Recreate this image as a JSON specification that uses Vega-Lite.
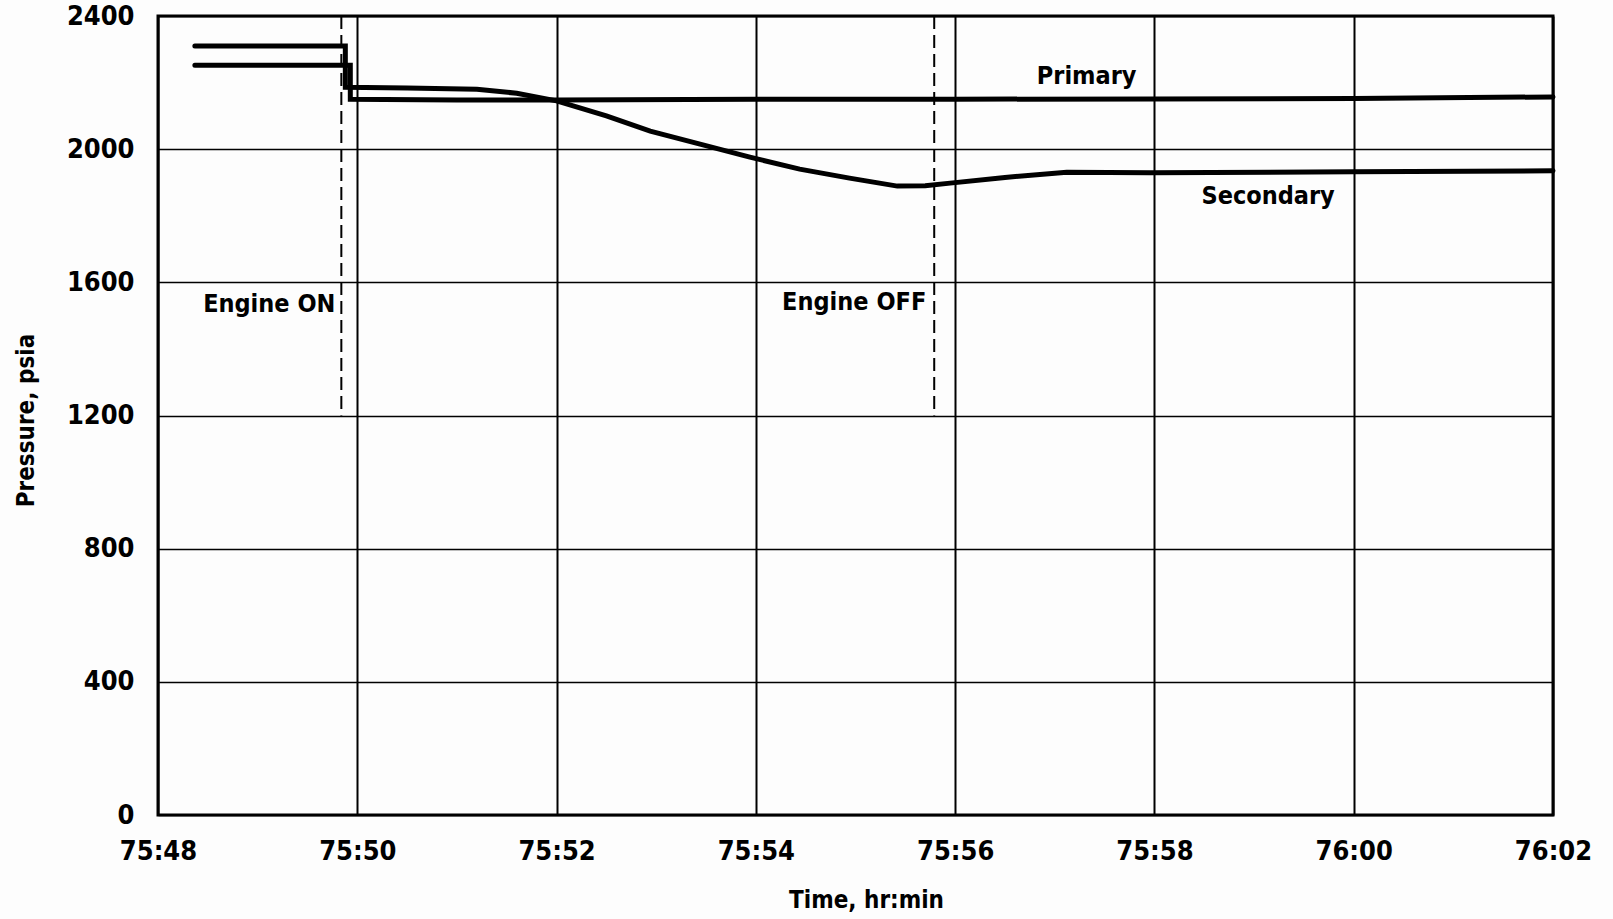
{
  "$schema": "https://vega.github.io/schema/vega-lite/v6.json",
  "width": 1395,
  "height": 799,
  "autosize": "none",
  "padding": {"left": 158, "top": 16, "right": 60, "bottom": 104},
  "background": "#fdfdfd",
  "config": {
    "font": "DejaVu Sans Condensed",
    "view": {"stroke": "#000000", "strokeWidth": 3}
  },
  "datasets": {
    "series": [
      {"i": 1, "series": "Primary", "t": 4548.37, "p": 2252},
      {"i": 2, "series": "Primary", "t": 4549.93, "p": 2252},
      {"i": 3, "series": "Primary", "t": 4549.93, "p": 2150},
      {"i": 4, "series": "Primary", "t": 4551.0, "p": 2148},
      {"i": 5, "series": "Primary", "t": 4552.0, "p": 2148},
      {"i": 6, "series": "Primary", "t": 4554.0, "p": 2150},
      {"i": 7, "series": "Primary", "t": 4556.0, "p": 2150},
      {"i": 8, "series": "Primary", "t": 4558.0, "p": 2151},
      {"i": 9, "series": "Primary", "t": 4560.0, "p": 2152},
      {"i": 10, "series": "Primary", "t": 4562.0, "p": 2157},
      {"i": 1, "series": "Secondary", "t": 4548.37, "p": 2310},
      {"i": 2, "series": "Secondary", "t": 4549.88, "p": 2310},
      {"i": 3, "series": "Secondary", "t": 4549.88, "p": 2186},
      {"i": 4, "series": "Secondary", "t": 4550.5, "p": 2184},
      {"i": 5, "series": "Secondary", "t": 4551.2, "p": 2180},
      {"i": 6, "series": "Secondary", "t": 4551.6, "p": 2168},
      {"i": 7, "series": "Secondary", "t": 4552.0, "p": 2145},
      {"i": 8, "series": "Secondary", "t": 4552.5, "p": 2100},
      {"i": 9, "series": "Secondary", "t": 4552.94, "p": 2054},
      {"i": 10, "series": "Secondary", "t": 4553.44, "p": 2015},
      {"i": 11, "series": "Secondary", "t": 4553.94, "p": 1976},
      {"i": 12, "series": "Secondary", "t": 4554.44, "p": 1940},
      {"i": 13, "series": "Secondary", "t": 4554.94, "p": 1913},
      {"i": 14, "series": "Secondary", "t": 4555.42, "p": 1889},
      {"i": 15, "series": "Secondary", "t": 4555.7, "p": 1890},
      {"i": 16, "series": "Secondary", "t": 4555.95, "p": 1898},
      {"i": 17, "series": "Secondary", "t": 4556.5, "p": 1915},
      {"i": 18, "series": "Secondary", "t": 4557.12, "p": 1931},
      {"i": 19, "series": "Secondary", "t": 4557.96, "p": 1929},
      {"i": 20, "series": "Secondary", "t": 4560.0, "p": 1932},
      {"i": 21, "series": "Secondary", "t": 4562.0, "p": 1935}
    ],
    "events": [
      {"t": 4549.84, "p": 2400, "p2": 1200},
      {"t": 4555.79, "p": 2400, "p2": 1200}
    ],
    "labels": [
      {"t": 4549.78, "p": 1534, "label": "Engine ON"},
      {"t": 4555.71, "p": 1540, "label": "Engine OFF"},
      {"t": 4557.82, "p": 2220, "label": "Primary"},
      {"t": 4559.81, "p": 1859, "label": "Secondary"}
    ]
  },
  "layer": [
    {
      "data": {"name": "series"},
      "mark": {"type": "line", "color": "#000000", "strokeWidth": 5, "strokeCap": "round", "strokeJoin": "miter"},
      "encoding": {
        "x": {
          "field": "t",
          "type": "quantitative",
          "scale": {"domain": [4548, 4562], "nice": false, "zero": false},
          "axis": {
            "values": [4548, 4550, 4552, 4554, 4556, 4558, 4560, 4562],
            "labelExpr": "floor(datum.value/60) + ':' + (datum.value % 60 < 10 ? '0' : '') + (datum.value % 60)",
            "grid": true,
            "gridColor": "#000000",
            "gridWidth": 2,
            "gridOpacity": 1,
            "domain": false,
            "ticks": false,
            "labelFont": "DejaVu Sans Condensed",
            "labelFontWeight": "bold",
            "labelFontSize": 27,
            "labelColor": "#000000",
            "labelPadding": 23,
            "labelFlush": false,
            "title": "Time, hr:min",
            "titleFont": "DejaVu Sans Condensed",
            "titleFontSize": 24,
            "titleFontWeight": "bold",
            "titleColor": "#000000",
            "titleX": 708,
            "titleY": 85,
            "titleBaseline": "middle",
            "titleAlign": "center"
          }
        },
        "y": {
          "field": "p",
          "type": "quantitative",
          "scale": {"domain": [0, 2400], "nice": false},
          "axis": {
            "values": [0, 400, 800, 1200, 1600, 2000, 2400],
            "format": "d",
            "grid": true,
            "gridColor": "#000000",
            "gridWidth": 1.5,
            "gridOpacity": 1,
            "domain": false,
            "ticks": false,
            "labelFont": "DejaVu Sans Condensed",
            "labelFontWeight": "bold",
            "labelFontSize": 27,
            "labelColor": "#000000",
            "labelPadding": 24,
            "labelFlush": false,
            "title": "Pressure, psia",
            "titleFont": "DejaVu Sans Condensed",
            "titleFontSize": 24,
            "titleFontWeight": "bold",
            "titleColor": "#000000",
            "titleX": -132,
            "titleY": 404,
            "titleAngle": -90,
            "titleBaseline": "middle",
            "titleAlign": "center"
          }
        },
        "detail": {"field": "series"},
        "order": {"field": "i", "type": "quantitative"}
      }
    },
    {
      "data": {"name": "events"},
      "mark": {"type": "rule", "color": "#000000", "strokeWidth": 2, "strokeDash": [13, 6]},
      "encoding": {
        "x": {"field": "t", "type": "quantitative"},
        "y": {"field": "p", "type": "quantitative"},
        "y2": {"field": "p2"}
      }
    },
    {
      "data": {"name": "labels"},
      "mark": {"type": "text", "color": "#000000", "font": "DejaVu Sans Condensed", "fontWeight": "bold", "fontSize": 25, "align": "right", "baseline": "middle"},
      "encoding": {
        "x": {"field": "t", "type": "quantitative"},
        "y": {"field": "p", "type": "quantitative"},
        "text": {"field": "label"}
      }
    }
  ]
}
